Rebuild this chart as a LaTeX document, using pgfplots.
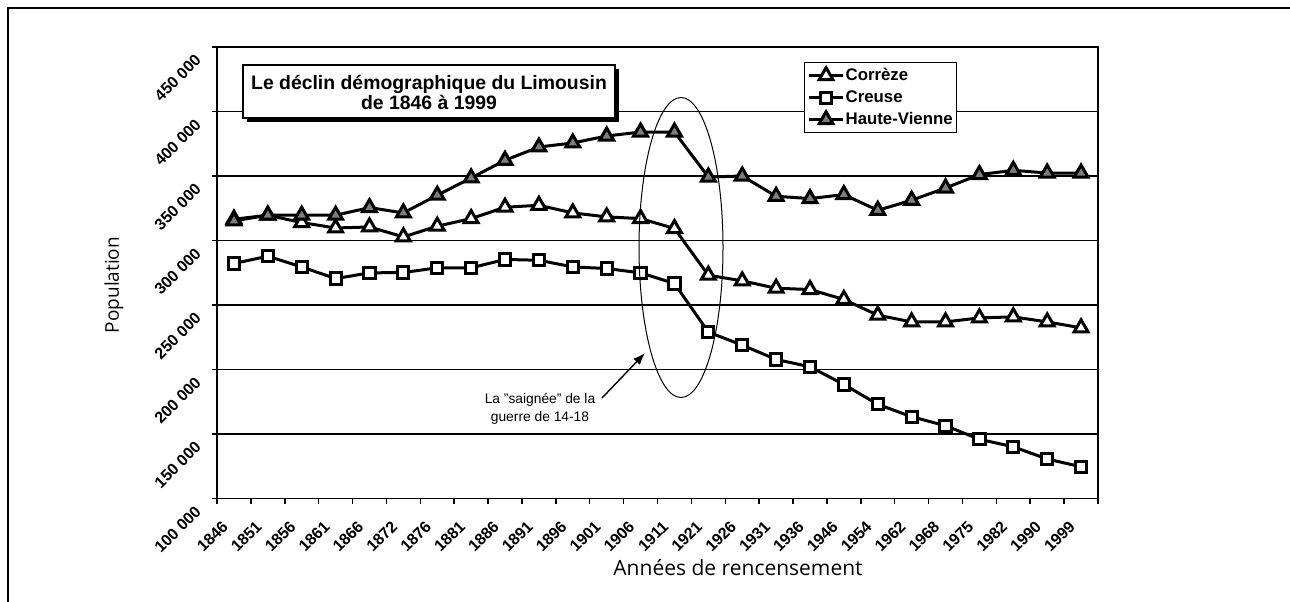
\documentclass[border=0pt]{standalone}
\usepackage{fontspec}
\setmainfont{Liberation Sans}
\newfontfamily\osans{Open Sans}
\usepackage{pgfplots}
\pgfplotsset{compat=1.18}
\usepackage{pgfplotstable}
\usetikzlibrary{arrows.meta}
\definecolor{hvgray}{RGB}{122,125,130}

\pgfplotstableread{
x y
0.5 316500
1.5 319600
2.5 313900
3.5 309700
4.5 310500
5.5 302800
6.5 311100
7.5 317000
8.5 325800
9.5 327300
10.5 321400
11.5 318300
12.5 317000
13.5 309300
14.5 273100
15.5 268700
16.5 263000
17.5 262000
18.5 254300
19.5 242100
20.5 236900
21.5 236900
22.5 240000
23.5 240800
24.5 236900
25.5 232300
}\correze

\pgfplotstableread{
x y
0.5 282200
1.5 287800
2.5 279500
3.5 270500
4.5 274900
5.5 275200
6.5 278800
7.5 278800
8.5 285300
9.5 284700
10.5 279500
11.5 278300
12.5 274900
13.5 266700
14.5 229000
15.5 218900
16.5 207800
17.5 202100
18.5 188400
19.5 173000
20.5 163400
21.5 156400
22.5 145900
23.5 140100
24.5 130600
25.5 124600
}\creuse

\pgfplotstableread{
x y
0.5 315200
1.5 319600
2.5 319600
3.5 319600
4.5 325500
5.5 321400
6.5 335100
7.5 348500
8.5 362200
9.5 372500
10.5 375600
11.5 381000
12.5 384100
13.5 384100
14.5 349200
15.5 350000
16.5 334300
17.5 332500
18.5 335600
19.5 323400
20.5 331200
21.5 340700
22.5 351100
23.5 354400
24.5 352300
25.5 352300
}\hvienne

\begin{document}
\begin{tikzpicture}
\path[use as bounding box] (0,0) rectangle (645pt,300.5pt);
\draw[line width=0.75pt] (4pt,-1pt) -- (4pt,296.5pt) -- (646pt,296.5pt);
\begin{axis}[
  at={(108.5pt,51.25pt)}, anchor=south west,
  scale only axis, width=440.5pt, height=225.75pt,
  xmin=0, xmax=26, ymin=100000, ymax=450000,
  scaled y ticks=false,
  xtick={0,...,26},
  xticklabels={1846,1851,1856,1861,1866,1872,1876,1881,1886,1891,1896,1901,1906,1911,1921,1926,1931,1936,1946,1954,1962,1968,1975,1982,1990,1999,{}},
  ytick={100000,150000,200000,250000,300000,350000,400000,450000},
  yticklabels={100 000,150 000,200 000,250 000,300 000,350 000,400 000,450 000},
  xtick pos=bottom, ytick pos=left,
  tick align=outside, major tick length=2.5pt,
  tick style={black, line width=0.75pt},
  ymajorgrids, grid style={black, line width=0.9pt},
  axis line style={black, line width=0.9pt},
  ticklabel style={font=\bfseries\fontsize{8}{9}\selectfont},
  xticklabel style={xshift=2pt, yshift=-6.5pt, rotate=45, anchor=north east, inner sep=1pt},
  yticklabel style={xshift=-9pt, yshift=-1.5pt, rotate=45, anchor=north east, inner sep=1pt},
  clip=false,
  legend style={at={(0.666,0.9668)}, anchor=north west, draw=black, line width=0.75pt, fill=white,
    font=\bfseries\fontsize{8.4}{9}\selectfont, inner sep=1.5pt, row sep=1pt,
    nodes={inner sep=0.5pt, text height=7pt, text depth=2pt}},
  legend cell align=left,
  every axis plot/.append style={black, line width=1.5pt, mark options={solid, line width=0.7pt, draw=black}},
]
\addplot[mark=triangle*, mark size=4pt, mark options={fill=white}] table[x=x,y=y] {\correze};
\addlegendentry{Corrèze}
\addplot[mark=square*, mark size=2.8pt, mark options={fill=white}] table[x=x,y=y] {\creuse};
\addlegendentry{Creuse}
\addplot[mark=triangle*, mark size=4pt, mark options={fill=hvgray}] table[x=x,y=y] {\hvienne};
\addlegendentry{Haute-Vienne}
\end{axis}
% title box with shadow
\fill[black] (123.5pt,239.5pt) rectangle (309.5pt,266pt);
\draw[fill=white, line width=0.75pt] (121.5pt,241.5pt) rectangle (307.5pt,268pt);
\node[align=center, font=\bfseries\fontsize{9.7}{10}\selectfont] at (214.5pt,254.5pt) {Le déclin démographique du Limousin\\de 1846 à 1999};
% ellipse and annotation
\draw[line width=0.5pt] (340.5pt,176.75pt) ellipse [x radius=21pt, y radius=75pt];
\draw[line width=0.7pt, -{Latex[length=6pt,width=4.5pt]}] (301pt,101.5pt) -- (322.5pt,124pt);
\node[align=center, font=\fontsize{6.9}{9}\selectfont] at (270pt,96pt) {La \char34saignée\char34{} de la\\guerre de 14-18};
% axis titles
\node[rotate=90, font=\osans\fontsize{9.5}{11}\selectfont] at (57pt,158pt) {Population};
\node[font=\osans\fontsize{10.5}{12}\selectfont] at (369pt,16.5pt) {Années de rencensement};
\end{tikzpicture}
\end{document}
